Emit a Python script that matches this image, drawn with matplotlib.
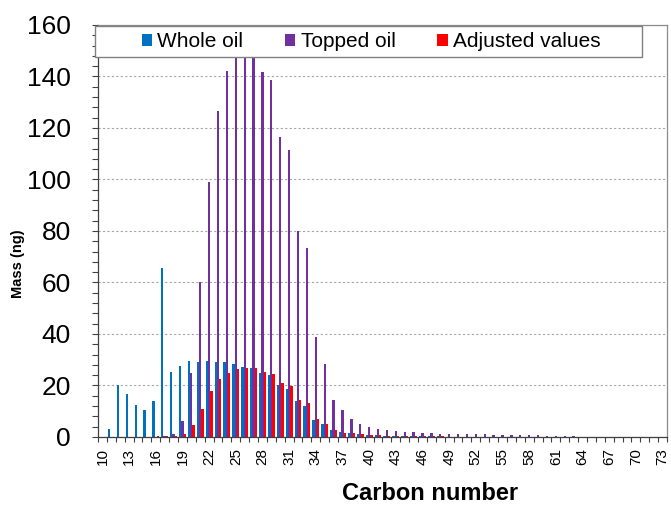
import numpy as np
import matplotlib.pyplot as plt
from matplotlib.patches import Rectangle

plt.rcParams['font.family'] = ['Liberation Sans', 'DejaVu Sans']

# carbon numbers C10..C73
carbon = list(range(10, 74))

whole_oil = [0, 3.0, 20.1, 16.7, 12.4, 10.4, 14.0, 65.5, 25.2, 27.6,
             29.4, 29.1, 29.4, 29.0, 29.1, 28.3, 27.2, 26.8, 25.0, 24.2,
             20.2, 18.5, 13.9, 12.0, 6.6, 5.0, 2.6, 1.9, 1.4, 1.0,
             0.8, 0.6, 0.5, 0.4, 0.35, 0.3, 0.25, 0.2, 0.2, 0.15,
             0.15, 0.1, 0.1, 0.1, 0.1, 0.1, 0.1, 0.1, 0.05, 0.05,
             0, 0, 0, 0, 0, 0, 0, 0, 0, 0,
             0, 0, 0, 0]

topped_oil = [0, 0, 0, 0, 0, 0, 0, 0.5, 1.2, 6.2,
              25.0, 60.1, 99.0, 126.6, 142.3, 150.0, 155.0, 151.0, 141.6, 138.5,
              116.4, 111.3, 80.1, 73.4, 38.7, 28.2, 14.4, 10.5, 7.1, 4.9,
              3.8, 3.0, 2.6, 2.3, 1.9, 1.8, 1.4, 1.4, 1.3, 1.2,
              1.2, 1.1, 1.0, 1.0, 0.9, 0.9, 0.8, 0.8, 0.7, 0.6,
              0.5, 0.4, 0.3, 0.2, 0, 0, 0, 0, 0, 0,
              0, 0, 0, 0]

adjusted = [0, 0, 0, 0, 0, 0.1, 0.2, 0.3, 0.5, 1.2,
            4.5, 10.7, 17.7, 22.4, 25.0, 26.3, 26.7, 26.9, 25.1, 24.6,
            20.8, 19.8, 14.4, 13.1, 7.1, 5.2, 2.7, 1.6, 1.4, 1.2,
            0.8, 0.6, 0.5, 0.4, 0.35, 0.3, 0.25, 0.2, 0.2, 0.15,
            0.15, 0.1, 0.1, 0.1, 0.1, 0.1, 0.1, 0.1, 0.05, 0.05,
            0, 0, 0, 0, 0, 0, 0, 0, 0, 0,
            0, 0, 0, 0]

series_names = ['Whole oil', 'Topped oil', 'Adjusted values']
colors = ['#0070C0', '#7030A0', '#FF0000']

fig = plt.figure(figsize=(6.71, 5.09), dpi=100)
ax = fig.add_axes([0.146, 0.1415, 0.848, 0.8095])

x = np.arange(len(carbon))
w = 0.26
for i, (vals, name, c) in enumerate(zip([whole_oil, topped_oil, adjusted], series_names, colors)):
    ax.bar(x + (i - 1) * w, vals, width=w, color=c, label=name, zorder=2, linewidth=0)

ax.set_xlim(-0.5, len(carbon) - 0.5)
ax.set_ylim(0, 160)

# y axis: labels every 20, minor ticks every 4
ax.set_yticks(np.arange(0, 161, 20))
ax.set_yticks(np.arange(0, 161, 4), minor=True)
ax.tick_params(axis='y', which='both', direction='out', length=4.5, width=0.8,
               color='#404040', labelsize=19, pad=15)
ax.grid(axis='y', which='major', color='#A6A6A6', linestyle=(0, (2, 2)), linewidth=0.8, zorder=0)
ax.set_axisbelow(True)

# x axis: tick marks between categories, labels every third carbon number
ax.set_xticks(x[::3])
ax.set_xticklabels([str(c) for c in carbon[::3]], rotation=90)
ax.set_xticks(np.arange(-0.5, len(carbon), 1), minor=True)
ax.tick_params(axis='x', which='major', length=0, labelsize=11, pad=8)
ax.tick_params(axis='x', which='minor', direction='out', length=3.8, width=0.8, color='#404040')

for side in ['left', 'bottom']:
    ax.spines[side].set_color('#404040')
    ax.spines[side].set_linewidth(0.9)
for side in ['top', 'right']:
    ax.spines[side].set_color('#8C8C8C')
    ax.spines[side].set_linewidth(0.9)

# legend box across the top of the plot area
box = Rectangle((95 / 671, 1 - 57 / 509), (642 - 95) / 671, 31 / 509,
                transform=fig.transFigure, facecolor='white', edgecolor='#808080',
                linewidth=1.0, zorder=4, clip_on=False)
ax.add_patch(box)
leg = ax.legend(loc='center', bbox_to_anchor=(371 / 671, 1 - 41.5 / 509),
                bbox_transform=fig.transFigure, ncol=3, frameon=False,
                fontsize=15, handlelength=0.5, handleheight=0.5,
                handletextpad=0.25, columnspacing=2.0, borderpad=0)
leg.set_zorder(5)

fig.text(430 / 671, 1 - 493 / 509, 'Carbon number', fontsize=17, fontweight='bold',
         ha='center', va='center')
fig.text(18 / 671, 1 - 264 / 509, 'Mass (ng)', fontsize=10.5, fontweight='bold',
         ha='center', va='center', rotation=90)

fig.savefig('out.png', dpi=100)
